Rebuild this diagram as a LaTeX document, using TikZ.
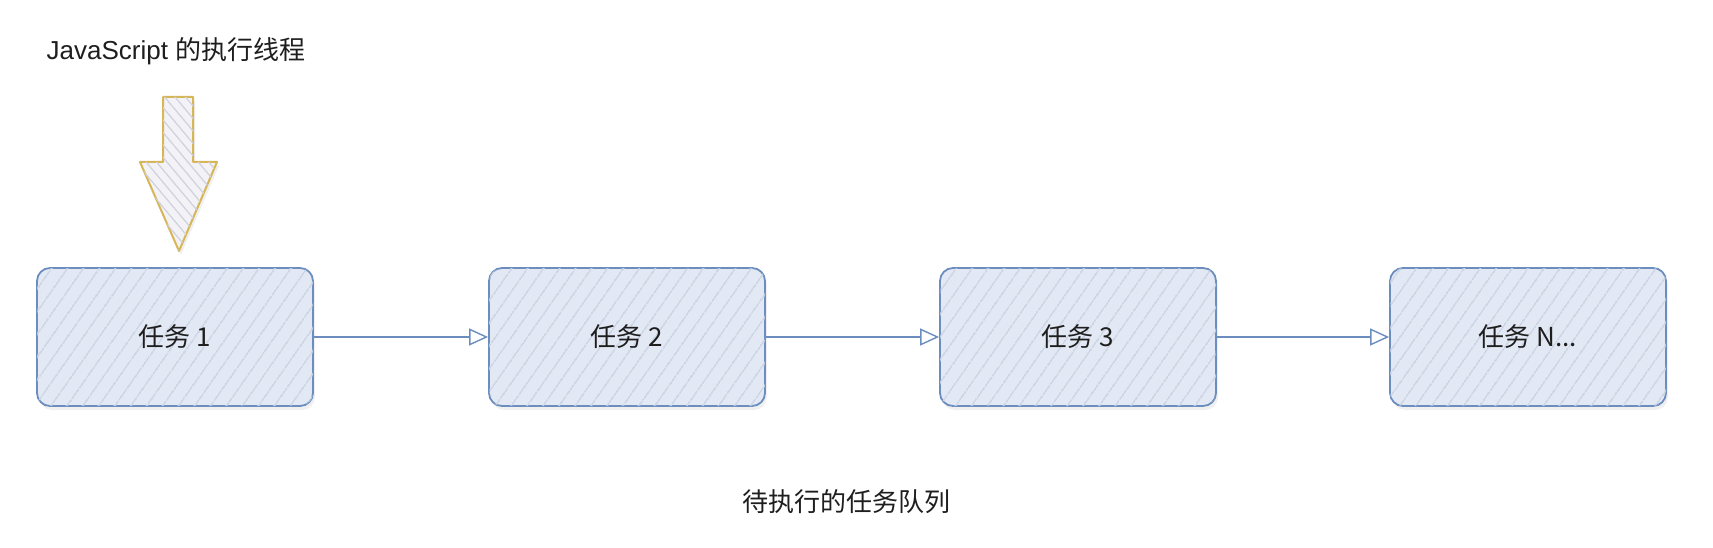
\documentclass[tikz,border=0pt]{standalone}
\usepackage{fontspec}
\setmainfont{Liberation Sans}
\newfontfamily\cjk{Noto Sans CJK SC}
\usetikzlibrary{patterns.meta,arrows.meta,shadows}
\definecolor{boxstroke}{HTML}{6C8EBF}
\definecolor{boxfill}{HTML}{E3E9F4}
\definecolor{boxhatch}{HTML}{CAD3E4}
\definecolor{arrstroke}{HTML}{D6B656}
\definecolor{arrfill}{HTML}{F3F3F7}
\definecolor{arrhatch}{HTML}{D2D2DE}
\definecolor{txt}{HTML}{1E1E1E}
\tikzset{
  taskbox/.style={draw=boxstroke, line width=1.8pt, rounded corners=13pt,
    minimum width=276pt, minimum height=138pt, fill=boxfill,
    drop shadow={opacity=0.12, shadow xshift=2pt, shadow yshift=-4pt},
    postaction={pattern={Lines[angle=55,distance=13pt,line width=1.6pt]}, pattern color=boxhatch},
    font=\fontsize{26}{29}\selectfont, text=txt},
  flow/.style={draw=boxstroke, line width=1.6pt, -{Triangle[open,length=19pt,width=17pt,line width=1.4pt]}},
  label/.style={font=\fontsize{26}{29}\selectfont, text=txt},
}
\begin{document}
\begin{tikzpicture}[x=1pt,y=-1pt]
\useasboundingbox (0,0) rectangle (1713,548);
\node[label] (title) at (176,51) {JavaScript \cjk{的执行线程}};
\node[taskbox] (t1) at (175,337) {\cjk{任务} 1};
\node[taskbox] (t2) at (627,337) {\cjk{任务} 2};
\node[taskbox] (t3) at (1078,337) {\cjk{任务} 3};
\node[taskbox] (tn) at (1528,337) {\cjk{任务} N...};
\draw[flow] (t1) -- (t2);
\draw[flow] (t2) -- (t3);
\draw[flow] (t3) -- (tn);
\node[label] (caption) at (846,502) {\cjk{待执行的任务队列}};
% yellow down arrow
\path[draw=arrstroke, line width=2pt, line join=round, fill=arrfill,
  drop shadow={opacity=0.12, shadow xshift=2pt, shadow yshift=-4pt},
  postaction={pattern={Lines[angle=-50,distance=8pt,line width=1.3pt]}, pattern color=arrhatch}]
  (163,97) -- (193,97) -- (193,162) -- (217,162) -- (179,251) -- (140,162) -- (163,162) -- cycle;
\coordinate (tip) at (179,251);
\end{tikzpicture}
\end{document}
